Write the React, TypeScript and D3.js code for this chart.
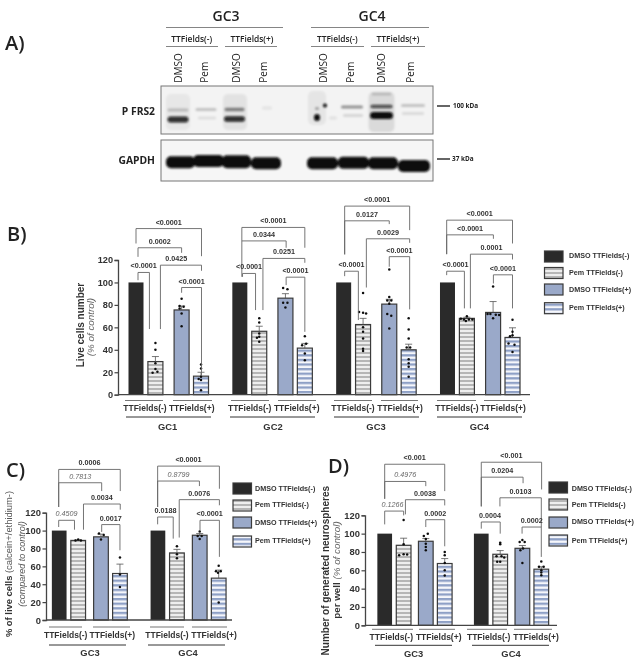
import React, { useEffect, useRef } from "react";
import * as d3 from "d3";

const FONT = "'Liberation Sans', Arial, sans-serif";
const HFONT = "'Open Sans', sans-serif";

const treatments = ["DMSO TTFields(-)", "Pem TTFields(-)", "DMSO TTFields(+)", "Pem TTFields(+)"];
const yTicks = [0, 20, 40, 60, 80, 100, 120];

// Panel B
const meansB = [100, 29.5, 75.5, 16.5, 100, 56.5, 86, 41.5, 100, 62.5, 80.7, 40, 100, 68, 73.3, 51];
const errB = [100, 34, 79, 20, 100, 61, 90, 45.7, 100, 68, 85, 45, 100, 69, 83, 59.6];
const pointsB: [number, number, number][] = [
  [1, 0, 46], [1, 0, 40], [1, 0, 28], [1, -2.8, 19.6], [1, 2, 20.5], [1, 0, 23],
  [2, 0, 85.5], [2, -2, 79], [2, 2, 78.3], [2, 0, 72.4], [2, -2, 76.9], [2, 0, 61],
  [3, 0, 27], [3, 0, 23.4], [3, -2.3, 14], [3, 0, 13], [3, 0, 16], [3, 0, 3.9],
  [5, 0, 68], [5, 0, 64.4], [5, 0, 54.6], [5, 0, 51.6], [5, 0, 47.2], [5, -2.3, 50.7],
  [6, -2.3, 95], [6, 2, 94], [6, -2.3, 82], [6, 2, 82], [6, 0, 77.7],
  [7, 0, 52], [7, -2.7, 44], [7, 1.3, 45.4], [7, 0, 36.8], [7, 0, 30.6],
  [9, 0, 90.5], [9, -4, 73.6], [9, 0, 73], [9, 3, 72.4], [9, 0, 60], [9, 0, 56], [9, 0, 50], [9, 0, 41], [9, 0, 39],
  [10, 0, 111.6], [10, 0, 87], [10, -2, 84], [10, 2, 84], [10, 0, 81], [10, -2, 71.8], [10, 2, 70.3], [10, 0, 59],
  [11, 0, 68], [11, 0, 58], [11, 0, 50], [11, -2, 42], [11, 1.5, 42], [11, 0, 31.5], [11, 0, 28], [11, 0, 25], [11, 0, 16],
  [13, 0, 70], [13, -6, 67.6], [13, -3, 67], [13, 2, 67], [13, 5.5, 67], [13, -1, 65.6],
  [14, 0, 96.4], [14, -5.5, 71.8], [14, -2.7, 71.8], [14, 2.7, 71.2], [14, 0, 68], [14, 6, 71],
  [15, 0, 66.8], [15, 0, 56], [15, 0, 53], [15, -2.5, 52], [15, -4, 45.7], [15, 2, 44.5], [15, 0, 38],
];
type Br = { a: number; dxA: number; b: number; dxB: number; top: number; left: number; right: number; label: string; ital?: boolean; ldx?: number };
const bracketsB: Br[] = [
  { a: 0, dxA: 0, b: 3, dxB: 0.5, top: 148, left: 134.7, right: 123.4, label: "<0.0001" },
  { a: 0, dxA: 2, b: 2, dxB: 0, top: 130.9, left: 122.8, right: 126.4, label: "0.0002" },
  { a: 0, dxA: 2, b: 1, dxB: -6, top: 108.9, left: 102, right: 58.5, label: "<0.0001" },
  { a: 1, dxA: 5, b: 3, dxB: 0.5, top: 115.4, left: 58.5, right: 110.4, label: "0.0425", ldx: -4.7 },
  { a: 2, dxA: 0, b: 3, dxB: 0.5, top: 95.5, left: 90.8, right: 17.5, label: "<0.0001" },
  { a: 4, dxA: 2, b: 7, dxB: 0, top: 149, left: 137, right: 130.9, label: "<0.0001" },
  { a: 4, dxA: 2, b: 6, dxB: 0.7, top: 137, left: 105, right: 130.9, label: "0.0344" },
  { a: 4, dxA: 2.7, b: 5, dxB: -3.7, top: 108, left: 105, right: 75.4, label: "<0.0001" },
  { a: 5, dxA: 3.7, b: 7, dxB: 0, top: 121.4, left: 75.4, right: 117.5, label: "0.0251" },
  { a: 6, dxA: 0.7, b: 7, dxB: 0, top: 104.7, left: 97.6, right: 56, label: "<0.0001" },
  { a: 8, dxA: 1, b: 11, dxB: 1, top: 168, left: 125, right: 146.6, label: "<0.0001" },
  { a: 8, dxA: 1, b: 10, dxB: 0, top: 154.9, left: 125, right: 152, label: "0.0127" },
  { a: 8, dxA: 1, b: 9, dxB: -4.7, top: 110, left: 105.6, right: 66.5, label: "<0.0001" },
  { a: 9, dxA: 3.3, b: 11, dxB: 1, top: 138.9, left: 95.5, right: 135.3, label: "0.0029" },
  { a: 10, dxA: 0, b: 11, dxB: 1, top: 123, left: 114, right: 76, label: "<0.0001" },
  { a: 12, dxA: -0.8, b: 15, dxB: 0, top: 155.5, left: 125.2, right: 134.7, label: "<0.0001" },
  { a: 12, dxA: -0.8, b: 14, dxB: 0.3, top: 142.4, left: 125.2, right: 138.9, label: "<0.0001" },
  { a: 12, dxA: -0.8, b: 13, dxB: -2.5, top: 110, left: 106.5, right: 76.9, label: "<0.0001" },
  { a: 13, dxA: 3.5, b: 15, dxB: 0, top: 125.2, left: 76.9, right: 120.5, label: "0.0001" },
  { a: 14, dxA: 0.3, b: 15, dxB: 0, top: 106.8, left: 99.1, right: 76.9, label: "<0.0001" },
];

// Panel C
const meansC = [100, 89, 93, 52, 100, 75, 94.8, 46.8];
const errC = [100, 89.5, 96, 62.5, 100, 79, 96.7, 55.8];
const pointsC: [number, number, number][] = [
  [1, -2.7, 89], [1, 0, 90], [1, 2.7, 89],
  [2, -2, 96.6], [2, 2.7, 95], [2, 0, 90],
  [3, 0, 70], [3, 0, 51], [3, 0, 37],
  [5, 0, 82.5], [5, 0, 73.6], [5, 0, 69],
  [6, 0, 99], [6, -2, 94], [6, 2, 94], [6, 0, 90.7],
  [7, 0, 60.6], [7, -2.7, 54.6], [7, 2, 54.6], [7, -0.7, 52.8], [7, 0, 19.7],
];
const bracketsC: Br[] = [
  { a: 0, dxA: -0.5, b: 3, dxB: 0.3, top: 168.4, left: 126.4, right: 144.2, label: "0.0006" },
  { a: 0, dxA: -0.5, b: 2, dxB: 0.7, top: 153.5, left: 126.4, right: 144.2, label: "0.7813", ital: true },
  { a: 0, dxA: -0.5, b: 1, dxB: -3.7, top: 111.5, left: 104, right: 101, label: "0.4509", ital: true },
  { a: 1, dxA: 5.3, b: 3, dxB: 0.3, top: 129.7, left: 101, right: 123.4, label: "0.0034" },
  { a: 2, dxA: 0.7, b: 3, dxB: 0, top: 106.7, left: 98.5, right: 78, label: "0.0017" },
  { a: 4, dxA: -0.3, b: 7, dxB: 0.7, top: 172.1, left: 126.4, right: 146.8, label: "<0.0001" },
  { a: 4, dxA: -0.3, b: 6, dxB: -0.3, top: 155.4, left: 126.4, right: 149.8, label: "0.8799", ital: true },
  { a: 4, dxA: -0.3, b: 5, dxB: -3.7, top: 115.2, left: 107, right: 91, label: "0.0188" },
  { a: 5, dxA: 2.3, b: 7, dxB: 0.7, top: 134.6, left: 92.2, right: 128.3, label: "0.0076" },
  { a: 6, dxA: 0.3, b: 7, dxB: 0.7, top: 111.5, left: 100.4, right: 70.6, label: "<0.0001" },
];

// Panel D
const meansD = [100, 87.3, 91.7, 67.4, 100, 77.5, 84, 61.2];
const errD = [100, 95, 94.6, 72.8, 100, 81.5, 87, 63.8];
const pointsD: [number, number, number][] = [
  [1, 0, 114.9], [1, -4.5, 76.4], [1, 0, 77.5], [1, 3.5, 77.2], [1, 0, 88.4],
  [2, -2, 97.5], [2, 2, 100], [2, 0, 94.2], [2, 0, 89], [2, 0, 85.5], [2, 0, 81.9],
  [3, 0, 80], [3, 0, 76.4], [3, 0, 68], [3, 0, 60], [3, 0, 54.3],
  [5, 0, 90], [5, 0, 88.4], [5, -3.7, 75.4], [5, 1.3, 75.4], [5, 4, 73.9], [5, 0, 69.2], [5, -3, 69.2],
  [6, 0, 93], [6, -2.7, 91], [6, 2.3, 91], [6, 0.7, 83.7], [6, -2, 81.9], [6, 0, 68],
  [7, 0, 69.6], [7, -2.3, 63.8], [7, 2.3, 63.8], [7, 0, 60], [7, 0, 57.6], [7, 0, 54.7],
];
const bracketsD: Br[] = [
  { a: 0, dxA: 0, b: 3, dxB: 0, top: 175.7, left: 138, right: 146.4, label: "<0.001" },
  { a: 0, dxA: 0, b: 2, dxB: 0, top: 156.9, left: 138, right: 151.8, label: "0.4976", ital: true },
  { a: 0, dxA: 0, b: 1, dxB: 0, top: 124.6, left: 110.1, right: 119.9, label: "0.1266", ital: true, ldx: -1.7 },
  { a: 1, dxA: 1.8, b: 3, dxB: 0, top: 137, left: 121, right: 130.8, label: "0.0038" },
  { a: 2, dxA: 0, b: 3, dxB: 0, top: 115.2, left: 107.2, right: 86.2, label: "0.0002" },
  { a: 4, dxA: 0, b: 7, dxB: 0.3, top: 177.9, left: 129.7, right: 148.2, label: "<0.001" },
  { a: 4, dxA: 0, b: 6, dxB: 0.7, top: 161.6, left: 129.7, right: 155, label: "0.0204" },
  { a: 4, dxA: 0, b: 5, dxB: 0, top: 112.7, left: 105.4, right: 100, label: "0.0004", ldx: -0.7 },
  { a: 5, dxA: -0.3, b: 7, dxB: 0, top: 139.1, left: 129.7, right: 107.2, label: "0.0103" },
  { a: 6, dxA: -0.3, b: 7, dxB: 0, top: 107.2, left: 100, right: 74.6, label: "0.0002" },
];

// Panel A: western blot (band x, y, width, height, darkness)
const frs2Bands: [number, number, number, number, number][] = [
  [17, 26, 24, 36, 0.05], [74, 26, 24, 36, 0.07], [156, 22, 18, 34, 0.06], [220.5, 26, 26, 40, 0.1],
  [220.5, 8, 20, 3, 0.15],
  [17, 24, 21, 3, 0.2], [45, 23.5, 21, 3, 0.2], [73.5, 23.5, 20, 3.5, 0.45], [106, 22, 10, 3, 0.07],
  [156, 22.5, 4, 3, 0.3], [164, 19.5, 4, 4, 1], [191, 21, 22, 3, 0.4], [220.5, 20.5, 22, 3.5, 0.7], [252, 19.5, 24, 3, 0.2],
  [17, 33.5, 21, 6, 0.85], [46, 32, 18, 2.5, 0.1], [73.5, 33, 21, 5.5, 0.85], [156, 31.5, 6, 7, 1],
  [172, 32, 8, 3, 0.08], [192, 29.5, 20, 2.5, 0.14], [220.5, 29.5, 23, 7, 1], [252, 27.5, 22, 2.5, 0.12],
];
const gapdhBands: [number, number, number, number, number][] = [
  [19.5, 22.3, 29, 12, 1], [47.5, 21, 31, 12, 1], [75.5, 21.7, 29, 13, 1], [105, 23.3, 30, 12, 1],
  [161.5, 23.3, 31, 12, 1], [192.5, 22.7, 31, 12, 1], [222, 23.3, 30, 12, 1], [253, 26, 32, 12, 1],
];
const laneLabels: [string, number][] = [
  ["DMSO", 179], ["Pem", 205], ["DMSO", 237], ["Pem", 264], ["DMSO", 324], ["Pem", 351], ["DMSO", 382], ["Pem", 411],
];

type PanelCfg = {
  means: number[]; errs: number[]; points: [number, number, number][]; brackets: Br[];
  y0: number; y120: number; axisX: number; axisEnd: number;
  first: number; last: number; groupSlots: number; innerGap: number; barW: number; tickFs: number;
};

const BAR_FILLS = ["#2a2a2a", "url(#hGrey)", "#9aa9c9", "url(#hBlue)"];

function Panel({ cfg }: { cfg: PanelCfg }) {
  const axisRef = useRef<SVGGElement>(null);
  const y = d3.scaleLinear().domain([0, 120]).range([cfg.y0, cfg.y120]);
  const nGroups = cfg.means.length / 4;
  const slot = (i: number) => {
    const g = Math.floor(i / 4);
    const k = i % 4;
    return g * cfg.groupSlots + (k < 2 ? k : k - 2 + cfg.innerGap);
  };
  const x = d3.scaleLinear().domain([0, slot(nGroups * 4 - 1)]).range([cfg.first, cfg.last]);
  useEffect(() => {
    if (!axisRef.current) return;
    const ax = d3.axisLeft(y).tickValues(yTicks).tickSize(3.5).tickPadding(1.5);
    const g = d3.select(axisRef.current);
    g.call(ax as any);
    g.select(".domain").attr("stroke", "#444").attr("stroke-width", 1.3);
    g.selectAll(".tick line").attr("stroke", "#444").attr("stroke-width", 1.2);
    g.selectAll("text").attr("font-family", FONT).attr("font-weight", "bold").attr("font-size", cfg.tickFs).attr("fill", "#333");
  }, []);
  return (
    <g>
      {cfg.means.map((m, i) => {
        const cx = x(slot(i));
        return (
          <rect key={i} x={cx - cfg.barW / 2} y={y(m)} width={cfg.barW} height={y(0) - y(m)}
            fill={BAR_FILLS[i % 4]} stroke="#3a3a3a" strokeWidth={i % 4 === 0 ? 0 : 1.2} />
        );
      })}
      {cfg.means.map((m, i) => {
        if (cfg.errs[i] <= m) return null;
        const cx = x(slot(i));
        return (
          <g key={i} stroke="#555" strokeWidth={0.8}>
            <line x1={cx} x2={cx} y1={y(m)} y2={y(cfg.errs[i])} />
            <line x1={cx - 3.5} x2={cx + 3.5} y1={y(cfg.errs[i])} y2={y(cfg.errs[i])} />
          </g>
        );
      })}
      {cfg.points.map(([b, dx, v], i) => (
        <circle key={i} cx={x(slot(b)) + dx} cy={y(v)} r={1.25} fill="#111" />
      ))}
      <g ref={axisRef} transform={`translate(${cfg.axisX},0)`} />
      <line x1={cfg.axisX} x2={cfg.axisEnd} y1={y(0)} y2={y(0)} stroke="#444" strokeWidth={1.3} />
      {cfg.brackets.map((b, i) => {
        const xa = x(slot(b.a)) + b.dxA;
        const xb = x(slot(b.b)) + b.dxB;
        return (
          <g key={i}>
            <path d={`M${xa},${y(b.left)}V${y(b.top)}H${xb}V${y(b.right)}`} fill="none" stroke="#666" strokeWidth={0.9} />
            <text x={(xa + xb) / 2 + (b.ldx || 0)} y={y(b.top) - 6.5} dy="0.35em" textAnchor="middle" fontFamily={FONT}
              fontSize={7.2} fontWeight={b.ital ? "normal" : "bold"} fontStyle={b.ital ? "italic" : "normal"}
              fill={b.ital ? "#666" : "#333"}>{b.label}</text>
          </g>
        );
      })}
    </g>
  );
}

function Legend({ x, textX, tops, centers, w, h }: { x: number; textX: number; tops: number[]; centers: number[]; w: number; h: number }) {
  return (
    <g>
      {treatments.map((t, i) => (
        <g key={t}>
          <rect x={x} y={tops[i]} width={w} height={h} fill={BAR_FILLS[i]} stroke="#3a3a3a" strokeWidth={1.2} />
          <text x={textX} y={centers[i]} dy="0.35em" fontFamily={FONT} fontSize={7.2} fontWeight="bold" fill="#333">{t}</text>
        </g>
      ))}
    </g>
  );
}

function Txt(p: any) {
  const { x, y, rot, children, size = 8.3, weight = "bold", ital = false, anchor = "middle", fill = "#333", font = FONT } = p;
  return (
    <text x={x} y={y} dy="0.35em" textAnchor={anchor} fontFamily={font} fontSize={size} fontWeight={weight}
      fontStyle={ital ? "italic" : "normal"} fill={fill} transform={rot ? `rotate(-90 ${x} ${y})` : undefined}>{children}</text>
  );
}

function Blot({ y, h, bands, bg, blur }: { y: number; h: number; bands: [number, number, number, number, number][]; bg: string; blur: string }) {
  const sx = d3.scaleLinear().domain([0, 272]).range([161, 433]);
  const sy = d3.scaleLinear().domain([0, h]).range([y, y + h]);
  return (
    <g>
      <rect x={sx(0)} y={y} width={272} height={h} fill={bg} />
      <g filter={`url(#${blur})`}>
        {bands.map(([bx, by, w, bh, o], i) => (
          <rect key={i} x={sx(bx) - w / 2} y={sy(by) - bh / 2} width={w} height={bh} rx={Math.min(bh / 2, 5)} fill="#0a0a0a" opacity={o} />
        ))}
      </g>
      <rect x={sx(0)} y={y} width={272} height={h} fill="none" stroke="#777" strokeWidth={1} />
    </g>
  );
}

export default function App() {
  const cfgB: PanelCfg = { means: meansB, errs: errB, points: pointsB, brackets: bracketsB, y0: 394.7, y120: 260, axisX: 118, axisEnd: 530, first: 136, last: 512.5, groupSlots: 5.35, innerGap: 2.35, barW: 15, tickFs: 9.2 };
  const cfgC: PanelCfg = { means: meansC, errs: errC, points: pointsC, brackets: bracketsC, y0: 620, y120: 512.7, axisX: 46, axisEnd: 232, first: 59.2, last: 218.7, groupSlots: 5.2, innerGap: 2.2, barW: 14.7, tickFs: 9.4 };
  const cfgD: PanelCfg = { means: meansD, errs: errD, points: pointsD, brackets: bracketsD, y0: 625.3, y120: 515.3, axisX: 365, axisEnd: 557, first: 384.7, last: 541.3, groupSlots: 5.1, innerGap: 2.17, barW: 14.7, tickFs: 9.4 };
  const stripLines: [number, number, number][] = [
    [166, 283, 27.5], [311, 429, 27.5], [166, 218, 46.5], [225, 277, 46.5], [311, 364, 46.5], [371, 425, 46.5],
  ];
  return (
    <svg width={641} height={667} viewBox="0 0 641 667" style={{ position: "absolute", left: 0, top: 0, background: "#fff", display: "block" }}>
      <defs>
        <pattern id="hGrey" patternUnits="userSpaceOnUse" width={4} height={4}>
          <rect width={4} height={4} fill="#eeeeee" />
          <rect width={4} height={2} fill="#b6b6b6" />
        </pattern>
        <pattern id="hBlue" patternUnits="userSpaceOnUse" width={4.6} height={4.6}>
          <rect width={4.6} height={4.6} fill="#f6f7fb" />
          <rect width={4.6} height={2.3} fill="#8ea0c6" />
        </pattern>
        <filter id="soft" filterUnits="userSpaceOnUse" x={0} y={0} width={641} height={667}>
          <feGaussianBlur stdDeviation={0.35} />
        </filter>
        <filter id="bandBlur" x="-50%" y="-50%" width="200%" height="200%">
          <feGaussianBlur stdDeviation={1.1} />
        </filter>
      </defs>
      <g filter="url(#soft)">
        {/* Panel A */}
        <Txt x={5} y={43} size={20} anchor="start" font={HFONT} fill="#222" weight={600}>A)</Txt>
        <Txt x={226} y={16.5} size={14} font={HFONT} fill="#222" weight={600}>GC3</Txt>
        <Txt x={372} y={16.5} size={14} font={HFONT} fill="#222" weight={600}>GC4</Txt>
        {stripLines.map(([a, b, yy], i) => (
          <line key={i} x1={a} x2={b} y1={yy} y2={yy} stroke="#777" strokeWidth={0.9} />
        ))}
        {[[191.7, "TTFields(-)"], [252, "TTFields(+)"], [337.3, "TTFields(-)"], [398, "TTFields(+)"]].map(([xx, t], i) => (
          <Txt key={i} x={xx} y={38.8} size={8.4} font={HFONT} fill="#222" weight={600}>{t}</Txt>
        ))}
        {laneLabels.map(([t, xx], i) => (
          <Txt key={i} x={xx} y={82.7} rot size={10} anchor="start" font={HFONT} fill="#222" weight={500}>{t}</Txt>
        ))}
        <Blot y={86} h={48} bands={frs2Bands} bg="#f3f3f3" blur="bandBlur" />
        <Blot y={140} h={41} bands={gapdhBands} bg="#f6f6f6" blur="bandBlur" />
        <Txt x={155} y={111} size={10.3} anchor="end" font={HFONT} fill="#222">P FRS2</Txt>
        <Txt x={155} y={160} size={10.3} anchor="end" font={HFONT} fill="#222">GAPDH</Txt>
        <line x1={437} x2={450} y1={106} y2={106} stroke="#111" strokeWidth={1.3} />
        <line x1={437} x2={450} y1={159} y2={159} stroke="#111" strokeWidth={1.3} />
        <Txt x={453} y={106} size={6.4} anchor="start" font={HFONT} fill="#222">100 kDa</Txt>
        <Txt x={452} y={159} size={6.4} anchor="start" font={HFONT} fill="#222">37 kDa</Txt>

        {/* Panel B */}
        <Txt x={7} y={234} size={20} anchor="start" font={HFONT} fill="#222" weight={600}>B)</Txt>
        <Panel cfg={cfgB} />
        <Txt x={80} y={325} rot size={10} fill="#333">Live cells number</Txt>
        <Txt x={90.5} y={327} rot size={9.8} weight="normal" ital fill="#666">(% of control)</Txt>
        {[[145, "TTFields(-)"], [191.7, "TTFields(+)"], [249.7, "TTFields(-)"], [296.7, "TTFields(+)"], [353, "TTFields(-)"], [400, "TTFields(+)"], [457, "TTFields(-)"], [503, "TTFields(+)"]].map(([xx, t], i) => (
          <Txt key={i} x={xx} y={407.7} size={8.5}>{t}</Txt>
        ))}
        {[[125, 163], [173, 212], [231, 269], [278, 316], [334, 372], [381, 418], [437, 476], [484, 522]].map(([a, b], i) => (
          <line key={i} x1={a} x2={b} y1={400.5} y2={400.5} stroke="#666" strokeWidth={0.9} />
        ))}
        {[[126, 211], [230, 315], [334, 419], [437, 522]].map(([a, b], i) => (
          <line key={i} x1={a} x2={b} y1={417} y2={417} stroke="#333" strokeWidth={1} />
        ))}
        {[[167.7, "GC1"], [273, "GC2"], [376, "GC3"], [479.3, "GC4"]].map(([xx, t], i) => (
          <Txt key={i} x={xx} y={427} size={9.4}>{t}</Txt>
        ))}
        <Legend x={544.5} textX={569} tops={[251, 267.5, 284, 302.7]} centers={[255.7, 272.3, 289.3, 307.7]} w={18.5} h={11} />

        {/* Panel C */}
        <Txt x={6} y={470} size={20} anchor="start" font={HFONT} fill="#222" weight={600}>C)</Txt>
        <Panel cfg={cfgC} />
        <text transform="rotate(-90 9 564)" x={9} y={564} dy="0.35em" textAnchor="middle" fontFamily={FONT} fontSize={9.4} fill="#333">
          <tspan fontWeight="bold">% of live cells </tspan><tspan fill="#555">(calcein+/ethidium-)</tspan>
        </text>
        <Txt x={21.7} y={564} rot size={9} weight="normal" ital fill="#555">(compared to control)</Txt>
        {[[65.7, "TTFields(-)"], [112.3, "TTFields(+)"], [167, "TTFields(-)"], [214, "TTFields(+)"]].map(([xx, t], i) => (
          <Txt key={i} x={xx} y={635} size={8.5}>{t}</Txt>
        ))}
        {[[49, 82], [93, 130], [150, 184], [192, 227]].map(([a, b], i) => (
          <line key={i} x1={a} x2={b} y1={627} y2={627} stroke="#666" strokeWidth={0.9} />
        ))}
        {[[49, 126], [148, 225]].map(([a, b], i) => (
          <line key={i} x1={a} x2={b} y1={645} y2={645} stroke="#333" strokeWidth={1} />
        ))}
        <Txt x={90} y={653} size={9.4}>GC3</Txt>
        <Txt x={188} y={653} size={9.4}>GC4</Txt>
        <Legend x={233} textX={255} tops={[483, 500, 517, 536]} centers={[488.3, 504.7, 522, 540]} w={18.5} h={11} />

        {/* Panel D */}
        <Txt x={328} y={466} size={20} anchor="start" font={HFONT} fill="#222" weight={600}>D)</Txt>
        <Panel cfg={cfgD} />
        <Txt x={325.7} y={570.7} rot size={10}>Number of generated neurospheres</Txt>
        <text transform="rotate(-90 337 570)" x={337} y={570} dy="0.35em" textAnchor="middle" fontFamily={FONT} fontSize={9.8} fill="#333">
          <tspan fontWeight="bold">per well </tspan><tspan fontStyle="italic" fill="#666">(% of control)</tspan>
        </text>
        {[[391.3, "TTFields(-)"], [438.7, "TTFields(+)"], [488.7, "TTFields(-)"], [536, "TTFields(+)"]].map(([xx, t], i) => (
          <Txt key={i} x={xx} y={637} size={8.5}>{t}</Txt>
        ))}
        {[[372, 413], [419, 455], [467, 507], [514, 552]].map(([a, b], i) => (
          <line key={i} x1={a} x2={b} y1={629.3} y2={629.3} stroke="#666" strokeWidth={0.9} />
        ))}
        {[[375, 452], [472, 549]].map(([a, b], i) => (
          <line key={i} x1={a} x2={b} y1={645.3} y2={645.3} stroke="#333" strokeWidth={1} />
        ))}
        <Txt x={413.7} y={654} size={9.4}>GC3</Txt>
        <Txt x={511} y={654} size={9.4}>GC4</Txt>
        <Legend x={549} textX={571.7} tops={[482, 499, 517, 535]} centers={[488, 504.7, 521.7, 540]} w={18.5} h={11} />
      </g>
    </svg>
  );
}
